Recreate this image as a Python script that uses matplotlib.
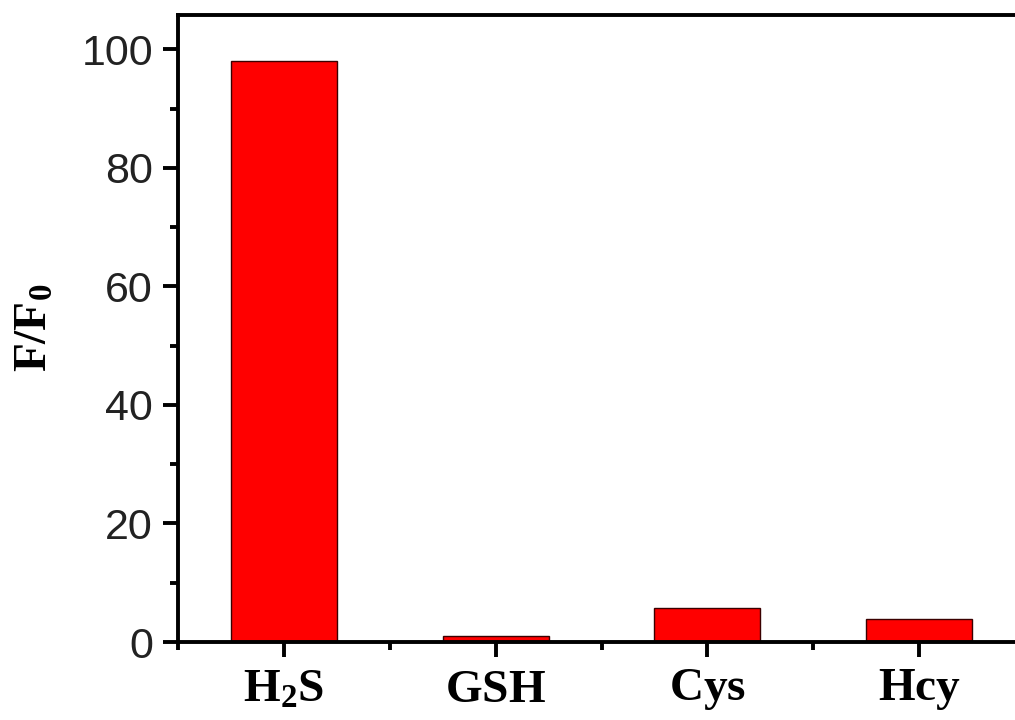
import numpy as np
import matplotlib.pyplot as plt
from matplotlib.ticker import MultipleLocator

# data
categories = [r'$\mathbf{H_2S}$', r'$\mathbf{GSH}$', r'$\mathbf{Cys}$', r'$\mathbf{Hcy}$']
values = [98.0, 1.0, 5.7, 3.9]

plt.rcParams['mathtext.fontset'] = 'custom'
plt.rcParams['mathtext.bf'] = 'Liberation Serif:bold'
plt.rcParams['mathtext.rm'] = 'Liberation Serif:bold'

fig = plt.figure(figsize=(10.15, 7.2), dpi=100)
ax = fig.add_axes([178 / 1015, 78 / 720, 847 / 1015, 627.5 / 720])

x = np.arange(1, len(values) + 1)
ax.bar(x, values, width=0.5, color='#ff0000', edgecolor='#3a0000', linewidth=1.0, zorder=1)

ax.set_xlim(0.5, 4.5)
ax.set_ylim(0, 105.9)
ax.set_xticks(x)
ax.set_xticklabels(categories, fontsize=34)
ax.xaxis.set_minor_locator(MultipleLocator(0.5))
ax.yaxis.set_major_locator(MultipleLocator(20))
ax.yaxis.set_minor_locator(MultipleLocator(10))

for s in ax.spines.values():
    s.set_linewidth(2.8)
    s.set_zorder(3)

ax.tick_params(axis='both', which='major', direction='out', length=11, width=2.8)
ax.tick_params(axis='both', which='minor', direction='out', length=6, width=2.8)
ax.tick_params(axis='x', which='major', pad=7)
ax.tick_params(axis='y', which='major', pad=7)
for lab in ax.get_yticklabels():
    lab.set_fontfamily('Liberation Sans')
    lab.set_fontsize(31)
    lab.set_color('#222222')

ax.set_ylabel(r'$\mathbf{F/F_0}$', fontsize=34, labelpad=18)

fig.savefig('out.png', dpi=100)
